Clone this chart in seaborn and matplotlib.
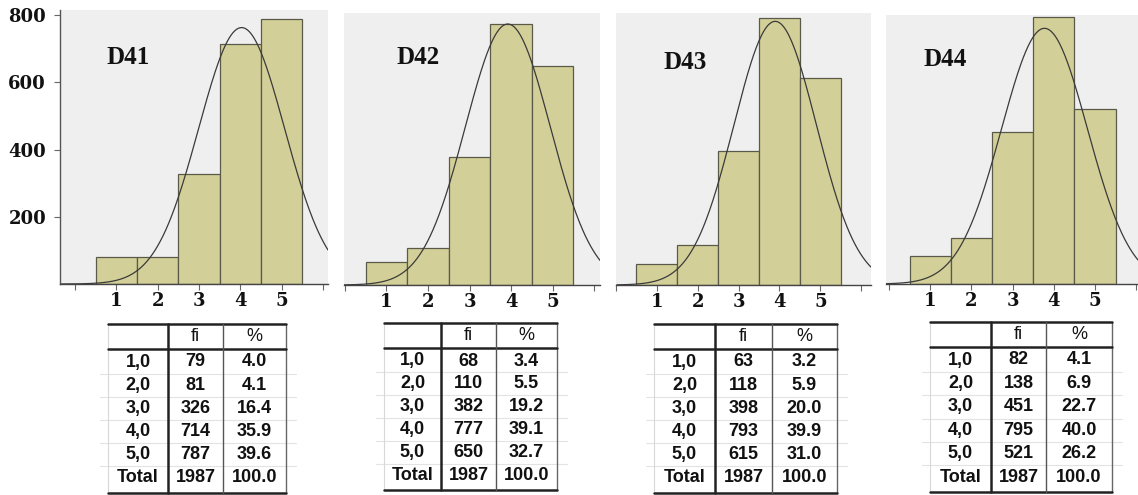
import numpy as np
import pandas as pd
import matplotlib
matplotlib.use("Agg")
import matplotlib.pyplot as plt
import seaborn as sns

names = ["D41", "D42", "D43", "D44"]
scores = [1, 2, 3, 4, 5]
row_labels = ["1,0", "2,0", "3,0", "4,0", "5,0", "Total"]
fi_d41 = [79, 81, 326, 714, 787]
fi_d42 = [68, 110, 382, 777, 650]
fi_d43 = [63, 118, 398, 793, 615]
fi_d44 = [82, 138, 451, 795, 521]
pct_d41 = ["4.0", "4.1", "16.4", "35.9", "39.6"]
pct_d42 = ["3.4", "5.5", "19.2", "39.1", "32.7"]
pct_d43 = ["3.2", "5.9", "20.0", "39.9", "31.0"]
pct_d44 = ["4.1", "6.9", "22.7", "40.0", "26.2"]
total_n = 1987
y_ticks = [200, 400, 600, 800]

fis = [fi_d41, fi_d42, fi_d43, fi_d44]
pcts = [pct_d41, pct_d42, pct_d43, pct_d44]

sns.set_theme(style="white")
plt.rcParams['font.family'] = ['Liberation Serif', 'DejaVu Serif']

W, H = 1138, 495
fig = plt.figure(figsize=(W / 100, H / 100), dpi=100)

# layout in pixels: left, right, top, bottom, xlim, ylim top
panels = [
    (60, 328, 10, 284, (-0.36, 6.12), 815),
    (344, 600, 13, 285, (-0.02, 6.14), 809),
    (616, 871, 13, 285, (0.02, 6.24), 809),
    (886, 1138, 15, 284, (-0.07, 6.04), 800),
]
label_pos = [(0.77, 675), (1.25, 678), (1.17, 663), (0.85, 667)]

bar_color = "#d3cf98"
bg = "#efefef"
tick_font = ['DejaVu Serif']

for i, (l, r, t, b, xl, ytop) in enumerate(panels):
    ax = fig.add_axes([l / W, (H - b) / H, (r - l) / W, (b - t) / H])
    ax.set_facecolor(bg)
    df = pd.DataFrame({"score": scores, "fi": fis[i]})
    sns.histplot(data=df, x="score", weights="fi", discrete=True,
                 color=bar_color, alpha=1, edgecolor="#5a5a4a",
                 linewidth=0.9, ax=ax)
    # fitted normal curve
    x = np.array(scores, dtype=float)
    f = np.array(fis[i], dtype=float)
    n = f.sum()
    mu = (x * f).sum() / n
    sd = np.sqrt(((x - mu) ** 2 * f).sum() / n)
    xs = np.linspace(xl[0], xl[1], 300)
    ys = n / (sd * np.sqrt(2 * np.pi)) * np.exp(-0.5 * ((xs - mu) / sd) ** 2)
    sns.lineplot(x=xs, y=ys, color="#3a3a3a", linewidth=0.9, ax=ax)
    ax.set_xlim(*xl)
    ax.set_ylim(0, ytop)
    ax.set_xlabel("")
    ax.set_ylabel("")
    ax.set_xticks(range(0, 7))
    ax.set_xticklabels(["", "1", "2", "3", "4", "5", ""])
    for s in ["top", "right"]:
        ax.spines[s].set_visible(False)
    ax.spines["bottom"].set_color("#444444")
    ax.spines["bottom"].set_linewidth(1.0)
    ax.tick_params(axis="x", bottom=True, length=4, width=0.8,
                   color="#666666", pad=2, labelsize=13)
    if i == 0:
        ax.spines["left"].set_color("#555555")
        ax.spines["left"].set_linewidth(1.0)
        ax.set_yticks(y_ticks)
        ax.tick_params(axis="y", left=True, length=4, width=0.8,
                       color="#666666", pad=6, labelsize=13)
    else:
        ax.spines["left"].set_visible(False)
        ax.set_yticks([])
    for lab in ax.get_xticklabels() + ax.get_yticklabels():
        lab.set_fontweight("bold")
        lab.set_family(tick_font)
        lab.set_color("#111111")
    ax.text(label_pos[i][0], label_pos[i][1], names[i], fontsize=18,
            fontweight="bold", va="center", ha="left", color="#111111")

# tables drawn on an overlay in pixel coordinates
tax = fig.add_axes([0, 0, 1, 1])
tax.set_xlim(0, W)
tax.set_ylim(H, 0)
tax.axis("off")

tables = [
    ([108, 168, 223, 286], 324, 349, 493),
    ([384, 441, 496, 557], 323, 348, 490),
    ([654, 715, 772, 837], 324, 349, 493),
    ([930, 991, 1046, 1112], 322, 347, 492),
]
sans = ['Liberation Sans', 'DejaVu Sans']
for i, (cols, top, hbot, bot) in enumerate(tables):
    centers = np.linspace(hbot + 13, bot - 15, 6)
    # faint spreadsheet grid
    for y in (centers[:-1] + centers[1:]) / 2:
        tax.plot([cols[0] - 8, cols[-1] + 10], [y, y], color="#e3e3e3", lw=0.8)
    tax.plot([cols[0], cols[0]], [top, bot], color="#d8d8d8", lw=0.8)
    tax.plot([cols[3], cols[3]], [top, bot], color="#666666", lw=1.0)
    tax.plot([cols[0], cols[3]], [top, top], color="#222222", lw=1.8)
    tax.plot([cols[0], cols[3]], [hbot, hbot], color="#222222", lw=1.8)
    tax.plot([cols[0], cols[3]], [bot, bot], color="#222222", lw=1.8)
    tax.plot([cols[1], cols[1]], [top, bot], color="#222222", lw=1.8)
    tax.plot([cols[2], cols[2]], [top, bot], color="#555555", lw=1.0)
    cx = [(cols[k] + cols[k + 1]) / 2 for k in range(3)]
    tax.text(cx[1], (top + hbot) / 2, "fi", family=sans, fontsize=13,
             ha="center", va="center", color="#111111")
    tax.text(cx[2], (top + hbot) / 2, "%", family=sans, fontsize=13,
             ha="center", va="center", color="#111111")
    fi_col = [str(v) for v in fis[i]] + [str(total_n)]
    pct_col = pcts[i] + ["100.0"]
    for r in range(6):
        for k, val in enumerate([row_labels[r], fi_col[r], pct_col[r]]):
            tax.text(cx[k], centers[r], val, family=sans, fontsize=13,
                     fontweight="bold", ha="center", va="center",
                     color="#111111")

fig.savefig("out.png", dpi=100)
